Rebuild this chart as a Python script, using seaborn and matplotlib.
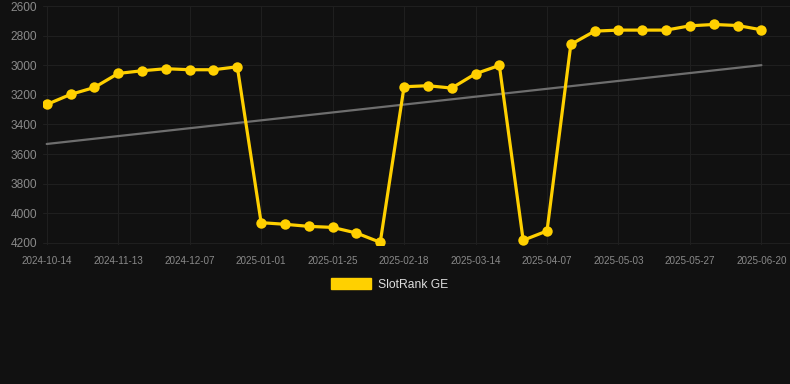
import numpy as np
import pandas as pd
import matplotlib
matplotlib.use("Agg")
import matplotlib.pyplot as plt
import seaborn as sns
from matplotlib.patches import Patch

# data
dates = [
    "2024-10-14", "2024-10-24", "2024-11-03", "2024-11-13", "2024-11-21",
    "2024-11-29", "2024-12-07", "2024-12-15", "2024-12-23", "2025-01-01",
    "2025-01-09", "2025-01-17", "2025-01-25", "2025-02-02", "2025-02-10",
    "2025-02-18", "2025-02-26", "2025-03-06", "2025-03-14", "2025-03-22",
    "2025-03-30", "2025-04-07", "2025-04-16", "2025-04-25", "2025-05-03",
    "2025-05-11", "2025-05-19", "2025-05-27", "2025-06-04", "2025-06-12",
    "2025-06-20",
]
ranks = [
    3265, 3197, 3150, 3055, 3037, 3023, 3030, 3030, 3010,
    4064, 4075, 4089, 4096, 4134, 4197,
    3145, 3138, 3154, 3057, 3001,
    4183, 4120,
    2859, 2769, 2762, 2762, 2762, 2733, 2724, 2731, 2760,
]
trend_ends = [3532, 2999]
series_name = "SlotRank GE"

BG = "#111111"
GOLD = "#FFD000"
GRID = "#1f1f1f"

sns.set_theme(style="dark", rc={
    "figure.facecolor": BG,
    "axes.facecolor": BG,
    "axes.edgecolor": BG,
    "grid.color": GRID,
    "text.color": "#dddddd",
})
plt.rcParams["font.family"] = ["Liberation Sans", "DejaVu Sans"]

df = pd.DataFrame({"pos": np.arange(len(dates)), "date": dates, "rank": ranks})

fig = plt.figure(figsize=(7.9, 3.84), dpi=100)
ax = fig.add_axes([0.054, 0.362, 0.946, 0.622])

# trend line
sns.lineplot(x=[0, len(dates) - 1], y=trend_ends, ax=ax, color="#6e6e6e",
             linewidth=1.6, zorder=2)

sns.lineplot(data=df, x="pos", y="rank", ax=ax, color=GOLD, linewidth=2.3,
             marker="o", markersize=7.5, markeredgewidth=0, zorder=3)

ax.set_ylim(4215, 2600)
ax.set_xlim(-0.17, 31.2)
ax.set_yticks(np.arange(2600, 4201, 200))
ax.set_xticks(df["pos"][::3])
ax.set_xticklabels(df["date"][::3])
ax.tick_params(axis="y", labelsize=8.6, labelcolor="#8a8a8a", length=0, pad=4)
ax.tick_params(axis="x", labelsize=7.1, labelcolor="#8a8a8a", length=0, pad=8)
ax.grid(True, color=GRID, linewidth=0.8)
ax.set_xlabel("")
ax.set_ylabel("")
for s in ax.spines.values():
    s.set_visible(False)

fig.legend(handles=[Patch(facecolor=GOLD, edgecolor=GOLD, label=series_name)],
           loc="center", bbox_to_anchor=(0.493, 0.26), frameon=False,
           fontsize=8.7, labelcolor="#dddddd", handlelength=3.3,
           handleheight=1.05, handletextpad=0.55)

fig.savefig("out.png", dpi=100, facecolor=BG)
